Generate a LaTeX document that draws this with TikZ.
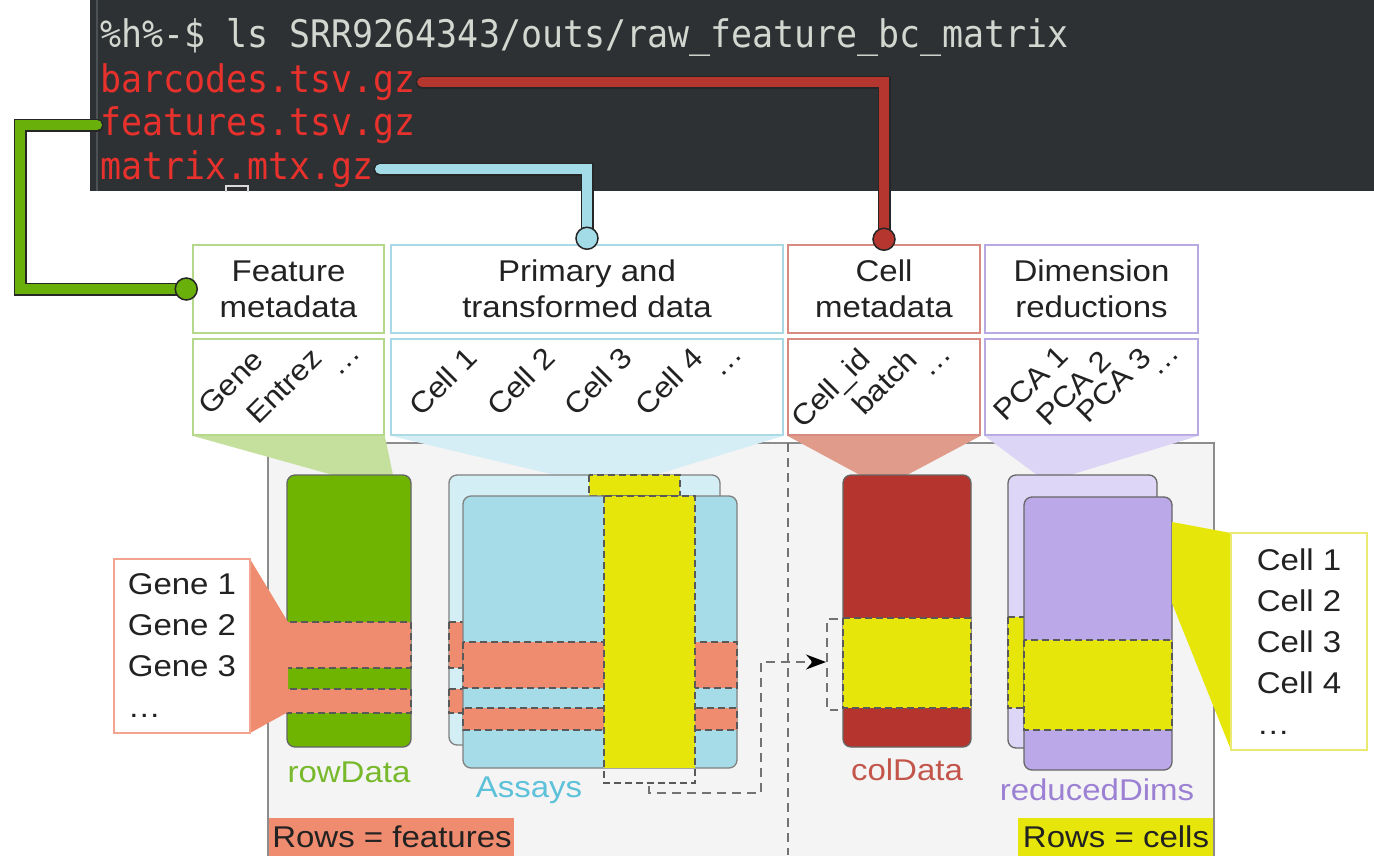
\documentclass[tikz,border=0pt]{standalone}
\usepackage{fontspec}
\newfontfamily\figfont[FakeStretch=1.1]{Liberation Sans}
\newfontfamily\termfont[FakeStretch=0.92]{DejaVu Sans Mono}
\usetikzlibrary{calc}
\usetikzlibrary{arrows.meta}
\definecolor{termbg}{HTML}{2D3134}
\definecolor{termedge}{HTML}{4C5154}
\definecolor{termfg}{HTML}{D3D7CF}
\definecolor{termred}{HTML}{E8312C}
\definecolor{wirered}{HTML}{B5352F}
\definecolor{wiregreen}{HTML}{6AB00A}
\definecolor{wirecyan}{HTML}{A3DCE7}
\definecolor{featline}{HTML}{B5D88A}
\definecolor{featfan}{HTML}{C4E09C}
\definecolor{primline}{HTML}{A8D9E4}
\definecolor{primfan}{HTML}{D5EEF6}
\definecolor{cellline}{HTML}{D98A80}
\definecolor{cellfan}{HTML}{E09B8B}
\definecolor{dimline}{HTML}{B9A9E2}
\definecolor{dimfan}{HTML}{DDD5F6}
\definecolor{panelbg}{HTML}{F4F4F4}
\definecolor{rowgreen}{HTML}{6EB400}
\definecolor{assayback}{HTML}{D4EEF6}
\definecolor{assayfront}{HTML}{A5DCE8}
\definecolor{hiyellow}{HTML}{E6E60A}
\definecolor{salmon}{HTML}{EF8B6F}
\definecolor{colred}{HTML}{B5342E}
\definecolor{dimback}{HTML}{DED6F7}
\definecolor{dimfront}{HTML}{BBA8E9}
\definecolor{lblgreen}{HTML}{78B92C}
\definecolor{lblblue}{HTML}{5CC1D9}
\definecolor{lblred}{HTML}{C3554B}
\definecolor{lblpurple}{HTML}{9B80D3}
\definecolor{genebd}{HTML}{F2A48E}
\definecolor{cellbd}{HTML}{EAEA70}
\definecolor{ink}{HTML}{222222}

\begin{document}
\begin{tikzpicture}[x=1pt, y=-1pt,
    txt/.style={inner sep=0, text=ink, font=\figfont\fontsize{30}{36}\selectfont},
    term/.style={inner sep=0, anchor=west, font=\termfont\fontsize{38}{44}\selectfont},
    headbox/.style={draw=#1, line width=1.5pt, fill=white, minimum height=88pt, inner sep=0, align=center, text=ink, font=\figfont\fontsize{30}{36}\selectfont},
    colbox/.style={draw=#1, line width=1.5pt, fill=white, minimum height=96pt, inner sep=0},
    tilt/.style={rotate=45, anchor=base west, inner sep=0, text=ink, font=\figfont\fontsize{29}{30}\selectfont},
    listbox/.style={draw=#1, line width=1.5pt, fill=white, align=left, inner sep=0, text=ink, font=\figfont\fontsize{30}{41}\selectfont},
    block/.style={fill=#1, draw=black!60, line width=1.3pt, rounded corners=8pt},
    band/.style={draw=black!65, dash pattern=on 7pt off 4pt, line width=1.4pt},
    guide/.style={draw=black!55, dash pattern=on 9pt off 6pt, line width=1.6pt},
    wire/.style={draw=black!85, line width=13pt, line cap=round, postaction={draw=#1, line width=10pt}},
    plug/.style={fill=#1, draw=black!85, line width=1.5pt}]
    \useasboundingbox (0,0) rectangle (1374,855);
    \fill[white] (0,0) rectangle (1374,855);

    \fill[termbg] (90,0) rectangle (1374,191);
    \draw[termedge, line width=1.5pt] (97,0) -- (97,191);
    \node[term, text=termfg] (prompt) at (100,37) {\%h\%-\$ ls SRR9264343/outs/raw\_feature\_bc\_matrix};
    \node[term, text=termred] (barcodes) at (100,82) {barcodes.tsv.gz};
    \node[term, text=termred] (features) at (100,125) {features.tsv.gz};
    \node[term, text=termred] (matrix) at (100,169) {matrix.mtx.gz};
    \draw[black!15, line width=1.5pt] (226,192) -- (226,186) -- (248,186) -- (248,192);

    \draw[draw=black!45, line width=1.5pt, fill=panelbg] (268,443) rectangle (1214,862);

    \node[headbox=featline, minimum width=191pt] (featbox) at (288.5,289) {Feature\\metadata};
    \node[headbox=primline, minimum width=392pt] (primbox) at (587,289) {Primary and\\transformed data};
    \node[headbox=cellline, minimum width=192pt] (cellbox) at (884,289) {Cell\\metadata};
    \node[headbox=dimline, minimum width=213pt] (dimbox) at (1091.5,289) {Dimension\\reductions};
    \node[colbox=featline, minimum width=191pt] (featcols) at (288.5,387) {};
    \node[colbox=primline, minimum width=392pt] (primcols) at (587,387) {};
    \node[colbox=cellline, minimum width=192pt] (cellcols) at (884,387) {};
    \node[colbox=dimline, minimum width=213pt] (dimcols) at (1091.5,387) {};

    \node[tilt] (gene) at (210,417) {Gene};
    \node[tilt] (entrez) at (258,426) {Entrez};
    \node[tilt] (featmore) at (339,378) {\dots};
    \node[tilt] (cellone) at (421,418) {Cell 1};
    \node[tilt] (celltwo) at (499,418) {Cell 2};
    \node[tilt] (cellthree) at (576,418) {Cell 3};
    \node[tilt] (cellfour) at (647,418) {Cell 4};
    \node[tilt] (primmore) at (721,379) {\dots};
    \node[tilt] (cellid) at (803,430) {Cell\_id};
    \node[tilt] (batch) at (864,417) {batch};
    \node[tilt] (cellmore) at (930,379) {\dots};
    \node[tilt] (pcaone) at (1005,423) {PCA 1};
    \node[tilt] (pcatwo) at (1048,428) {PCA 2};
    \node[tilt] (pcathree) at (1088,425) {PCA 3};
    \node[tilt] (dimmore) at (1158,378) {\dots};

    \fill[featfan] (featcols.south west) -- (featcols.south east) -- (393,475) -- (333,475) -- cycle;
    \fill[primfan] (primcols.south west) -- (primcols.south east) -- (655,475) -- (555,475) -- cycle;
    \fill[cellfan] (cellcols.south west) -- (cellcols.south east) -- (907,475) -- (860,475) -- cycle;
    \fill[dimfan] (dimcols.south west) -- (dimcols.south east) -- (1070,475) -- (1037,475) -- cycle;

    \draw[guide] (788,443) -- (788,855);

    \draw[block=rowgreen] (287,475) rectangle (411,747);
    \draw[band, fill=salmon] (287,622) rectangle (411,668);
    \draw[band, fill=salmon] (287,689) rectangle (411,713);

    \draw[block=assayback, draw=black!50] (449,475) rectangle (720,745);
    \draw[band, fill=salmon] (449,622) rectangle (720,668);
    \draw[band, fill=salmon] (449,689) rectangle (720,713);
    \draw[band, fill=hiyellow] (589,475) rectangle (680,496);
    \draw[block=assayfront, draw=black!50] (463,496) rectangle (737,768);
    \draw[band, fill=salmon] (463,642) rectangle (737,688);
    \draw[band, fill=salmon] (463,708) rectangle (737,730);
    \fill[hiyellow] (604,496) rectangle (695,768);
    \draw[band] (604,496) rectangle (695,783);

    \draw[block=colred] (843,475) rectangle (971,747);
    \draw[band, fill=hiyellow] (843,618) rectangle (971,708);

    \draw[block=dimback] (1008,475) rectangle (1157,748);
    \draw[band, fill=hiyellow] (1008,617) rectangle (1157,708);
    \draw[block=dimfront] (1024,497) rectangle (1172,770);
    \draw[band, fill=hiyellow] (1024,640) rectangle (1172,730);

    \draw[guide, -{Stealth[length=20pt, width=15pt, black]}] (649,786) -- (649,793) -- (761,793) -- (761,662) -- (826,662);
    \draw[guide] (838,619) -- (827,619) -- (827,710) -- (838,710);

    \fill[salmon] (250,559) -- (288,622) -- (288,712) -- (250,733) -- cycle;
    \node[listbox=genebd, minimum width=136pt, minimum height=174pt] (genebox) at (182,646) {Gene 1\\Gene 2\\Gene 3\\\dots};
    \fill[hiyellow] (1172,522) -- (1231,533) -- (1231,750) -- (1172,603) -- cycle;
    \node[listbox=cellbd, minimum width=136pt, minimum height=217pt] (cellsbox) at (1299,641.5) {Cell 1\\Cell 2\\Cell 3\\Cell 4\\\dots};

    \node[txt, text=lblgreen] (rowlbl) at (349,772) {rowData};
    \node[txt, text=lblblue] (assaylbl) at (529,790) {Assays};
    \node[txt, text=lblred] (collbl) at (907,770) {colData};
    \node[txt, text=lblpurple] (dimlbl) at (1097,790) {reducedDims};
    \fill[salmon] (269,818) rectangle (514,858);
    \node[txt] (rowsfeat) at (392,837) {Rows = features};
    \fill[hiyellow] (1018,818) rectangle (1213,858);
    \node[txt] (rowscell) at (1116,837) {Rows = cells};

    \draw[wire=wirered] ([xshift=6pt]barcodes.east) -| ([yshift=5pt]cellbox.north);
    \path[plug=wirered] ([yshift=5pt]cellbox.north) circle[radius=11pt];
    \draw[wire=wirecyan] ([xshift=6pt]matrix.east) -| ([yshift=6pt]primbox.north);
    \path[plug=wirecyan] ([yshift=6pt]primbox.north) circle[radius=11pt];
    \draw[wire=wiregreen] ([xshift=-3pt]features.west) -- ++(-77,0) |- ([xshift=-6pt]featbox.west);
    \path[plug=wiregreen] ([xshift=-6pt]featbox.west) circle[radius=11pt];
\end{tikzpicture}
\end{document}
